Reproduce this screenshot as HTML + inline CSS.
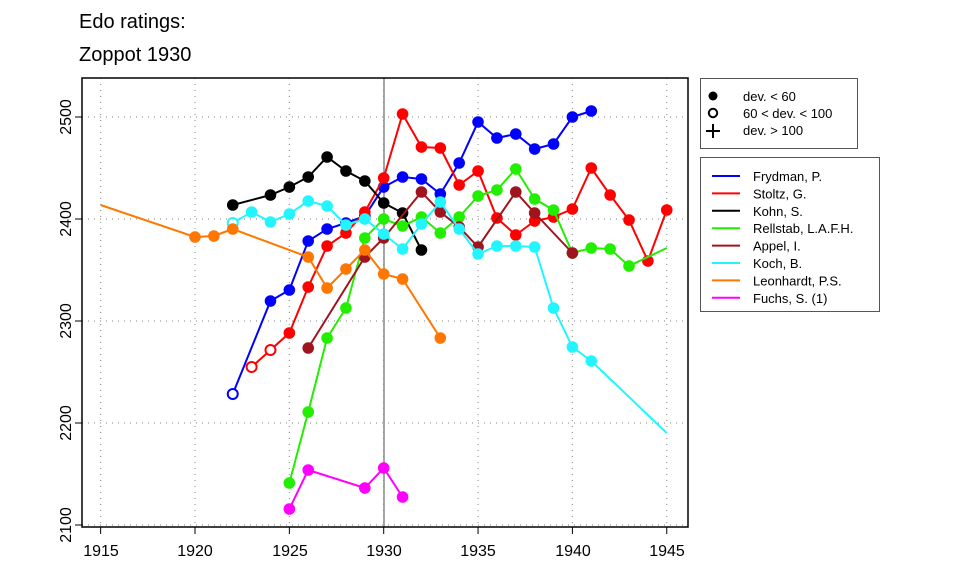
<!DOCTYPE html>
<html><head><meta charset="utf-8"><style>body{margin:0;background:#fff}svg{display:block}</style></head>
<body>
<svg id="s" width="960" height="576" xmlns="http://www.w3.org/2000/svg" font-family="Liberation Sans, sans-serif">
<rect width="960" height="576" fill="#fff"/>
<text x="79" y="28" font-size="20">Edo ratings:</text>
<text x="79" y="61" font-size="20">Zoppot 1930</text>
<g id="grid" stroke="#999" stroke-width="1.2" stroke-dasharray="1,5"></g>
<line x1="384" y1="78" x2="384" y2="527" stroke="#888" stroke-width="1.5"/>
<g id="series"></g>
<rect x="82" y="78" width="606" height="449" fill="none" stroke="#000" stroke-width="1.5"/>
<g id="axes" stroke="#000" stroke-width="1"></g>
<g font-size="16" text-anchor="middle">
<text x="101" y="556">1915</text><text x="195" y="556">1920</text><text x="290" y="556">1925</text><text x="384" y="556">1930</text><text x="478" y="556">1935</text><text x="573" y="556">1940</text><text x="667" y="556">1945</text>
<text transform="translate(71,525) rotate(-90)">2100</text>
<text transform="translate(71,423) rotate(-90)">2200</text>
<text transform="translate(71,321) rotate(-90)">2300</text>
<text transform="translate(71,219) rotate(-90)">2400</text>
<text transform="translate(71,117) rotate(-90)">2500</text>
</g>
<rect x="700.5" y="78.5" width="157" height="70" fill="#fff" stroke="#555"/>
<circle cx="713" cy="96" r="4.5" fill="#000"/>
<circle cx="713" cy="113" r="4.2" fill="none" stroke="#000" stroke-width="2"/>
<path d="M706 131h14M713 124v14" stroke="#000" stroke-width="2"/>
<g font-size="13"><text x="743" y="101">dev. &lt; 60</text><text x="743" y="118">60 &lt; dev. &lt; 100</text><text x="743" y="135">dev. &gt; 100</text></g>
<rect x="700.5" y="157.5" width="179" height="154" fill="#fff" stroke="#555"/>
<g id="leg" font-size="13"></g>
</svg>
<script>
const X=y=>195+(y-1920)*18.87;
const g=document.getElementById('grid'),ax=document.getElementById('axes');
let h='';
[1915,1920,1925,1930,1935,1940,1945].forEach(y=>{h+=`<line x1="${X(y)}" y1="78" x2="${X(y)}" y2="527"/>`});
[117,219,321,423,525].forEach(y=>{h+=`<line x1="82" y1="${y}" x2="688" y2="${y}"/>`});
g.innerHTML=h;
let a='';
[1915,1920,1925,1930,1935,1940,1945].forEach(y=>{a+=`<line x1="${X(y)}" y1="527" x2="${X(y)}" y2="534"/>`});
[117,219,321,423,525].forEach(y=>{a+=`<line x1="75" y1="${y}" x2="82" y2="${y}"/>`});
ax.innerHTML=a;
const S=[
['#0000ff','Frydman, P.',[[1922,394,1],[1924,301],[1925,290],[1926,241],[1927,229],[1928,223],[1929,216],[1930,187],[1931,177],[1932,179],[1933,194],[1934,163],[1935,122],[1936,138],[1937,134],[1938,149],[1939,144],[1940,117],[1941,111]]],
['#ff0000','Stoltz, G.',[[1923,367,1],[1924,350,1],[1925,333],[1926,287],[1927,246],[1928,233],[1929,212],[1930,178],[1931,114],[1932,147],[1933,148],[1934,185],[1935,171],[1936,218],[1937,235],[1938,221],[1939,217],[1940,209],[1941,168],[1942,195],[1943,220],[1944,261],[1945,210]]],
['#000000','Kohn, S.',[[1922,205],[1924,195],[1925,187],[1926,177],[1927,157],[1928,171],[1929,181],[1930,203],[1931,213],[1932,250]]],
['#22ee00','Rellstab, L.A.F.H.',[[1925,483],[1926,412],[1927,338],[1928,308],[1929,238],[1930,219],[1931,226],[1932,217],[1933,233],[1934,217],[1935,196],[1936,190],[1937,169],[1938,199],[1939,210],[1940,253],[1941,248],[1942,249],[1943,266],[1945,248,2]]],
['#a0141e','Appel, I.',[[1926,348],[1929,257],[1930,238],[1932,192],[1933,212],[1934,227],[1935,247],[1937,192],[1938,213],[1940,253]]],
['#22f5ff','Koch, B.',[[1922,223,1],[1923,212],[1924,222],[1925,214],[1926,201],[1927,206],[1928,225],[1929,219],[1930,234],[1931,249],[1932,224],[1933,202],[1934,229],[1935,254],[1936,246],[1937,246],[1938,247],[1939,308],[1940,347],[1941,361],[1945,433,2]]],
['#ff7700','Leonhardt, P.S.',[[1915,205,2],[1920,237],[1921,236],[1922,229],[1926,257],[1927,288],[1928,269],[1929,250],[1930,274],[1931,279],[1933,338]]],
['#ff00ff','Fuchs, S. (1)',[[1925,509],[1926,470],[1929,488],[1930,468],[1931,497]]]];
let s='',l='';
S.forEach(([c,n,p],i)=>{
 s+=`<polyline fill="none" stroke="${c}" stroke-width="2" points="${p.map(q=>X(q[0])+','+q[1]).join(' ')}"/>`;
 p.forEach(q=>{if(q[2]==1)s+=`<circle cx="${X(q[0])}" cy="${q[1]}" r="5" fill="#fff" stroke="${c}" stroke-width="2"/>`;else if(!q[2])s+=`<circle cx="${X(q[0])}" cy="${q[1]}" r="5.8" fill="${c}"/>`;});
 const y=176+i*17.4;
 l+=`<line x1="712" y1="${y}" x2="740" y2="${y}" stroke="${c}" stroke-width="2"/><text x="753" y="${y+5}">${n}</text>`;
});
document.getElementById('series').innerHTML=s;
document.getElementById('leg').innerHTML=l;
</script>
</body></html>
